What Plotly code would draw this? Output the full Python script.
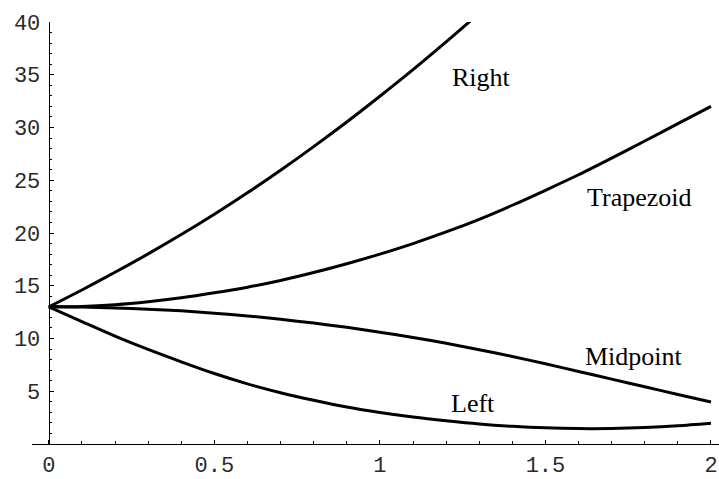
import plotly.graph_objects as go

# Step-size axis and the four approximation curves
x_vals = [0.0, 0.1, 0.2, 0.3, 0.4, 0.5, 0.6, 0.7, 0.8, 0.9, 1.0,
          1.1, 1.2, 1.3, 1.4, 1.5, 1.6, 1.7, 1.8, 1.9, 2.0]

right_vals = [13.0, 14.6, 16.28, 18.02, 19.85, 21.78, 23.81, 25.95, 28.19,
              30.52, 32.96, 35.48, 38.11, 40.83]
trapezoid_vals = [13.0, 13.04, 13.21, 13.49, 13.86, 14.33, 14.86, 15.5, 16.25,
                  17.08, 18.0, 19.0, 20.1, 21.3, 22.63, 24.05, 25.52, 27.1,
                  28.72, 30.36, 32.0]
midpoint_vals = [13.0, 12.98, 12.9, 12.78, 12.62, 12.4, 12.14, 11.82, 11.46,
                 11.06, 10.6, 10.1, 9.54, 8.94, 8.3, 7.6, 6.88, 6.15,
                 5.42, 4.7, 3.98]
left_vals = [13.0, 11.6, 10.22, 8.96, 7.79, 6.68, 5.7, 4.86, 4.14, 3.5, 2.98,
             2.55, 2.2, 1.9, 1.68, 1.53, 1.46, 1.47, 1.56, 1.73, 1.97]

curve_names = ["Right", "Trapezoid", "Midpoint", "Left"]
curve_vals = [right_vals, trapezoid_vals, midpoint_vals, left_vals]

# Curve captions and where they sit
label_x = [1.308, 1.782, 1.768, 1.282]
label_y = [34.76, 23.39, 8.28, 3.82]

x_ticks = [0, 0.5, 1, 1.5, 2]
x_tick_text = ["0", "0.5", "1", "1.5", "2"]
y_ticks = [5, 10, 15, 20, 25, 30, 35, 40]

X_MIN, X_MAX = -0.0507, 2.0242
Y_MIN, Y_MAX = 0, 40

fig = go.Figure()
for name, vals in zip(curve_names, curve_vals):
    fig.add_trace(go.Scatter(
        x=x_vals[:len(vals)], y=vals, mode="lines", name=name,
        line=dict(color="black", width=3, shape="spline", smoothing=0.8),
        showlegend=False, hoverinfo="skip",
    ))

for name, lx, ly in zip(curve_names, label_x, label_y):
    fig.add_annotation(
        x=lx, y=ly, text=name, showarrow=False,
        xanchor="center", yanchor="middle",
        font=dict(family="Liberation Serif", size=26, color="black"),
    )

tick_font = dict(family="Liberation Mono", size=22, color="#2a2a2a")

# y axis crosses the x axis at x = 0
y_axis_pos = (0 - X_MIN) / (X_MAX - X_MIN)

fig.update_layout(
    width=719, height=479,
    margin=dict(l=31.7, r=0, t=22.3, b=26.2, pad=0),
    paper_bgcolor="white", plot_bgcolor="white",
    xaxis=dict(
        range=[X_MIN, X_MAX], showgrid=False, zeroline=False,
        showline=True, linecolor="black", linewidth=1.2,
        ticks="inside", ticklen=4, tickwidth=1, tickcolor="black",
        tickvals=x_ticks, ticktext=x_tick_text, tickfont=tick_font,
        minor=dict(ticks="inside", ticklen=2.5, tickwidth=1,
                   tickcolor="black", dtick=0.1, tick0=0, showgrid=False),
    ),
    yaxis=dict(
        range=[Y_MIN, Y_MAX], showgrid=False, zeroline=False,
        anchor="free", position=y_axis_pos,
        showline=True, linecolor="black", linewidth=1.2,
        ticks="inside", ticklen=4, tickwidth=1, tickcolor="black",
        tickvals=y_ticks, tickfont=tick_font, ticklabelstandoff=4,
        minor=dict(ticks="inside", ticklen=2.5, tickwidth=1,
                   tickcolor="black", dtick=1, tick0=0, showgrid=False),
    ),
)

fig.write_html("out.html")
